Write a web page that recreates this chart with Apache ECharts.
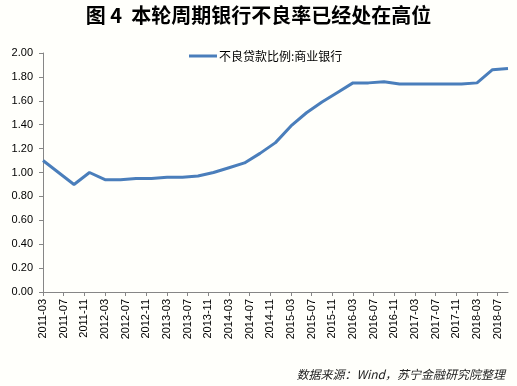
<!DOCTYPE html>
<html><head><meta charset="utf-8">
<script src="https://cdn.jsdelivr.net/npm/echarts@6/dist/echarts.min.js"></script>
<style>html,body{margin:0;padding:0;background:#fffffb;}#c{width:517px;height:386px;}</style>
</head><body><div id="c"></div>
<script>
// Quarterly data points
const quarters = ['2011-03','2011-06','2011-09','2011-12','2012-03','2012-06','2012-09','2012-12',
  '2013-03','2013-06','2013-09','2013-12','2014-03','2014-06','2014-09','2014-12',
  '2015-03','2015-06','2015-09','2015-12','2016-03','2016-06','2016-09','2016-12',
  '2017-03','2017-06','2017-09','2017-12','2018-03','2018-06','2018-09'];
const nplRatio = [1.10,1.00,0.90,1.00,0.94,0.94,0.95,0.95,
  0.96,0.96,0.97,1.00,1.04,1.08,1.16,1.25,
  1.39,1.50,1.59,1.67,1.75,1.75,1.76,1.74,
  1.74,1.74,1.74,1.74,1.75,1.86,1.87];
const seriesName = '不良贷款比例:商业银行';
const yTicks = [0, 0.2, 0.4, 0.6, 0.8, 1.0, 1.2, 1.4, 1.6, 1.8, 2.0];

// monthly category axis 2011-03 .. 2018-09
const months = [];
for (let y = 2011; y <= 2018; y++) {
  for (let m = 1; m <= 12; m++) {
    const s = y + '-' + (m < 10 ? '0' + m : m);
    if (s >= '2011-03' && s <= '2018-09') months.push(s);
  }
}
const lookup = {};
quarters.forEach((q, i) => lookup[q] = nplRatio[i]);
const data = months.map(m => (m in lookup ? lookup[m] : null));

const chart = echarts.init(document.getElementById('c'));
chart.setOption({
  backgroundColor: '#fffffb',
  animation: false,
  title: {
    text: '图 4  本轮周期银行不良率已经处在高位',
    left: 'center', top: 0,
    textStyle: { fontFamily: 'Noto Sans CJK SC', fontSize: 20, fontWeight: 'bold', color: '#000' }
  },
  graphic: [{
    type: 'text', right: 12, top: 368,
    style: { text: '数据来源：Wind，苏宁金融研究院整理', fontFamily: 'Noto Sans CJK SC',
      fontSize: 12, fontStyle: 'italic', fill: '#222' }
  }],
  legend: {
    top: 45, left: 184,
    itemWidth: 28, itemHeight: 3, itemGap: 2,
    icon: 'rect',
    textStyle: { fontFamily: 'Noto Sans CJK SC', fontSize: 12, color: '#000', padding: [0,0,0,-3] },
    data: [seriesName]
  },
  grid: { left: 43, right: 9, top: 53, bottom: 94, containLabel: false },
  xAxis: {
    type: 'category', data: months, boundaryGap: false,
    axisLine: { lineStyle: { color: '#868686', width: 1 } },
    axisTick: { show: true, interval: 3, length: 4, lineStyle: { color: '#868686' } },
    axisLabel: { interval: 3, rotate: 90, fontFamily: 'Liberation Sans', fontSize: 11, color: '#000', margin: 7 },
    splitLine: { show: false }
  },
  yAxis: {
    type: 'value', min: 0, max: 2, interval: 0.2,
    axisLine: { show: true, lineStyle: { color: '#868686', width: 1 } },
    axisTick: { show: true, length: 4, lineStyle: { color: '#868686' } },
    axisLabel: { formatter: v => v.toFixed(2), fontFamily: 'Liberation Sans', fontSize: 11, color: '#000', margin: 10 },
    splitLine: { show: false }
  },
  series: [{
    name: seriesName, type: 'line', data: data, connectNulls: true,
    showSymbol: false, symbol: 'none',
    lineStyle: { color: '#4a7ebb', width: 3 },
    itemStyle: { color: '#4a7ebb' }
  }]
});
</script></body></html>
